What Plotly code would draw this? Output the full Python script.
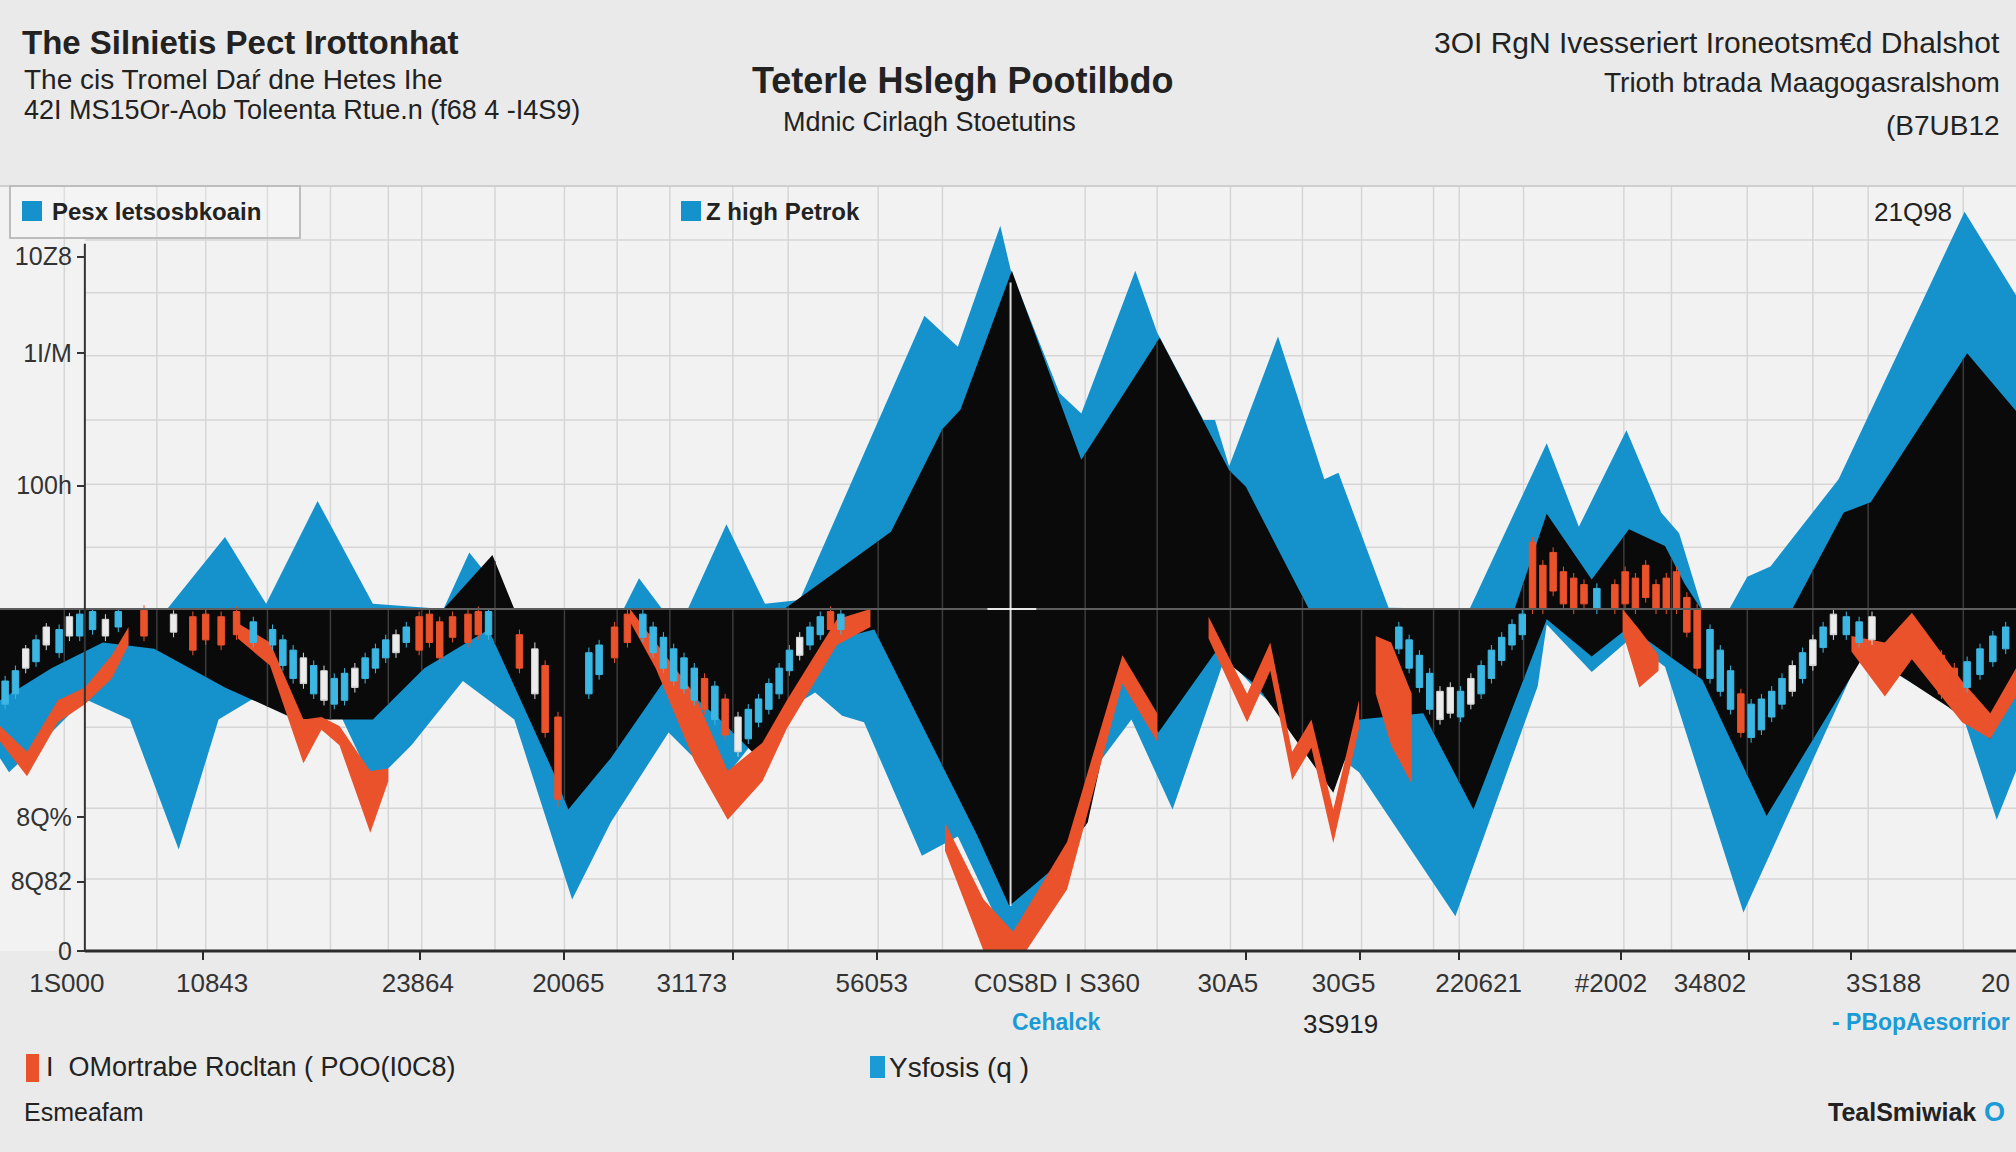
import numpy as np
import plotly.graph_objects as go

# ---------------- data (x in chart units, values on the chart's value scale) ----------------
BASE = 266  # zero line of the band chart

BLUE_UP_X = [0, 130, 175, 207, 247, 290, 345, 365, 400, 485, 497, 515, 535, 565, 595, 622, 719, 745, 778, 786,
             824, 841, 883, 900, 936, 945, 956, 994, 1030, 1041, 1080, 1143, 1203, 1228, 1265, 1292, 1306, 1324,
             1345, 1359, 1377, 1430, 1528, 1568]
BLUE_UP_V = [266, 266, 322, 270, 350, 270, 266, 310, 266, 266, 290, 266, 266, 332, 270, 273, 494, 470, 564, 530,
             434, 418, 529, 481, 413, 413, 377, 478, 367, 372, 267, 266, 395, 330, 405, 341, 325, 266,
             266, 291, 299, 367, 575, 510]

BLUE_LO_X = [0, 7, 40, 66, 101, 139, 170, 208, 250, 290, 320, 360, 400, 445, 475, 520, 560, 600, 634, 655, 672,
             717, 745, 786, 818, 850, 880, 912, 953, 980, 1010, 1057, 1132, 1196, 1203, 1238, 1267, 1295, 1356,
             1448, 1526, 1553, 1568]
BLUE_LO_V = [150, 139, 170, 196, 180, 79, 180, 203, 215, 130, 160, 210, 180, 40, 100, 170, 130, 180, 201, 183, 178,
             74, 89, 2, 63, 140, 180, 110, 229, 200, 175, 139, 27, 206, 254, 217, 242, 221, 30,
             232, 185, 102, 140]

BLACK_UP_X = [0, 345, 383, 400, 610, 693, 733, 747, 787, 841, 902, 956, 969, 1018, 1178, 1203, 1238, 1267, 1295,
              1310, 1323, 1394, 1434, 1455, 1530, 1568]
BLACK_UP_V = [266, 266, 308, 266, 266, 326, 406, 421, 529, 382, 477, 374, 361, 266, 266, 340, 289, 328, 315,
              286, 266, 266, 341, 349, 465, 420]

BLACK_LO_X = [0, 40, 80, 120, 175, 230, 290, 330, 380, 430, 442, 475, 520, 560, 590, 640, 680, 700, 760, 785, 818,
              846, 873, 901, 945, 978, 1037, 1057, 1107, 1146, 1203, 1238, 1267, 1292, 1324, 1374, 1451, 1515,
              1548, 1568]
BLACK_LO_V = [195, 220, 240, 235, 205, 180, 180, 220, 250, 140, 110, 150, 215, 180, 150, 240, 250, 210, 90, 35, 63,
              100, 224, 170, 232, 206, 123, 180, 185, 110, 258, 229, 252, 234, 211, 105, 232, 190,
              165, 211]

ORANGE_X = [[0, 21, 45, 66, 87, 100],
            [185, 210, 236, 250, 264, 288, 302],
            [490, 510, 540, 566, 593, 612, 651, 677],
            [735, 765, 788, 830, 873, 900],
            [940, 970, 988, 1005, 1020, 1037, 1057],
            [1070, 1082, 1098],
            [1262, 1275, 1290],
            [1440, 1466, 1487, 1526, 1548, 1568]]
ORANGE_HI = [[175, 155, 195, 205, 230, 252],
             [255, 240, 180, 182, 175, 140, 142],
             [266, 240, 200, 140, 162, 195, 258, 266],
             [100, 40, 15, 85, 230, 185],
             [260, 200, 240, 155, 180, 110, 195],
             [245, 240, 200],
             [266, 250, 230],
             [245, 240, 263, 210, 185, 220]]
ORANGE_LO = [[163, 136, 178, 192, 212, 238],
             [243, 222, 146, 172, 160, 92, 132],
             [256, 220, 148, 102, 132, 173, 238, 252],
             [78, 0, -15, 48, 208, 163],
             [243, 178, 218, 133, 158, 84, 173],
             [200, 160, 130],
             [248, 205, 218],
             [233, 198, 227, 178, 165, 198]]

# blue / white candles
CB_X = [4, 12, 20, 28, 36, 46, 54, 62, 72, 82, 92, 135, 197,
        212, 220, 228, 236, 244, 252, 260, 268, 276, 284, 292, 300, 308, 316,
        380, 416, 458, 466, 500, 508, 516, 524, 532, 540, 556, 574, 582, 590, 598, 606, 614, 622, 630, 638, 654,
        1088, 1096, 1104, 1112, 1120, 1128, 1136, 1144, 1152, 1160, 1168, 1176, 1184, 1242,
        1330, 1338, 1346, 1362, 1370, 1378, 1386, 1394, 1402, 1410, 1418, 1426, 1436, 1446, 1456,
        1530, 1540, 1550, 1560]
CB_OPEN = [192, 200, 235, 225, 252, 232, 260, 245, 250, 258, 252, 262, 240,
           238, 222, 212, 228, 200, 218, 192, 195, 220, 212, 220, 228, 246, 240,
           246, 235, 200, 215, 244, 232, 220, 210, 204, 195, 180, 182, 165, 178, 188, 200, 218, 244, 238, 246, 250,
           235, 220, 205, 188, 202, 205, 182, 212, 200, 212, 226, 238, 246, 266,
           212, 202, 188, 166, 172, 182, 192, 222, 212, 242, 236, 262, 246, 240, 260,
           205, 215, 225, 235]
CB_HIGH = [214, 222, 238, 246, 255, 254, 263, 266, 266, 262, 266, 265, 260,
           254, 246, 238, 232, 226, 222, 216, 220, 224, 232, 239, 246, 250, 256,
           266, 240, 236, 242, 266, 256, 248, 239, 232, 224, 210, 186, 192, 200, 212, 224, 238, 248, 256, 264, 266,
           256, 246, 234, 220, 206, 209, 206, 216, 226, 238, 248, 258, 266, 286,
           254, 238, 222, 196, 200, 206, 216, 226, 236, 246, 256, 266, 264, 260, 264,
           229, 239, 249, 256]
CB_LOW = [188, 196, 216, 221, 234, 228, 241, 241, 246, 241, 248, 244, 236,
          234, 218, 208, 204, 196, 191, 188, 191, 201, 208, 216, 224, 228, 236,
          242, 196, 196, 211, 240, 228, 216, 206, 200, 191, 176, 151, 161, 174, 184, 196, 214, 226, 234, 242, 246,
          231, 216, 201, 184, 176, 181, 178, 188, 196, 208, 222, 234, 242, 262,
          208, 198, 184, 162, 168, 178, 188, 198, 208, 218, 232, 242, 242, 236, 238,
          201, 211, 221, 231]
CB_CLOSE = [210, 218, 220, 242, 238, 250, 245, 262, 264, 245, 264, 248, 256,
            250, 242, 234, 208, 222, 195, 212, 216, 205, 228, 235, 242, 232, 252,
            264, 200, 232, 238, 262, 252, 244, 235, 228, 220, 206, 155, 188, 196, 208, 220, 234, 230, 252, 260, 262,
            252, 242, 230, 216, 180, 185, 202, 192, 222, 234, 244, 254, 262, 282,
            250, 234, 218, 192, 196, 202, 212, 202, 232, 222, 252, 246, 260, 256, 242,
            225, 235, 245, 252]

# orange candles
CO_X = [112, 150, 160, 172, 184, 326, 334, 342, 352, 364, 372, 404, 424, 434, 478, 488, 548, 564, 646,
        1192, 1200, 1208, 1216, 1224, 1232, 1256, 1264, 1272, 1280, 1288, 1296, 1304, 1312, 1320, 1354, 1510, 1520]
CO_OPEN = [245, 234, 242, 238, 246, 234, 240, 228, 244, 240, 246, 220, 170, 118, 228, 240, 188, 168, 250,
           266, 266, 280, 270, 266, 270, 266, 270, 266, 275, 266, 266, 266, 248, 220, 170, 200, 195]
CO_HIGH = [269, 264, 266, 264, 268, 264, 266, 260, 264, 266, 268, 250, 226, 186, 256, 266, 216, 200, 268,
           322, 304, 314, 299, 294, 289, 289, 299, 294, 304, 289, 294, 299, 279, 270, 204, 234, 224]
CO_LOW = [241, 230, 238, 234, 242, 230, 236, 224, 240, 236, 242, 216, 166, 112, 224, 236, 184, 164, 246,
          262, 262, 276, 266, 262, 266, 262, 266, 262, 271, 262, 262, 262, 244, 214, 166, 196, 191]
CO_CLOSE = [265, 260, 262, 260, 264, 260, 262, 256, 260, 262, 264, 246, 222, 182, 252, 262, 212, 196, 264,
            318, 300, 310, 295, 290, 285, 285, 295, 290, 300, 285, 290, 295, 275, 266, 200, 230, 220]

# axis labels
Y_TICK_VALS = [540, 465, 362, 104, 54, 0]
Y_TICK_TEXT = ["10Z8", "1I/M", "100h", "8Q%", "8Q82", "0"]
X_TICK_VALS = [52, 165, 325, 442, 538, 678, 822, 955, 1045, 1150, 1253, 1330, 1465, 1552]
X_TICK_TEXT = ["1S000", "10843", "23864", "20065", "31173", "56053", "C0S8D I S360", "30A5", "30G5",
               "220621", "#2002", "34802", "3S188", "20"]
X_MINOR_VALS = [158, 327, 439, 570, 682, 969, 1058, 1135, 1261, 1360, 1440]

# ---------------- styling ----------------
W, H = 2016, 1152
PLOT_TOP, PLOT_BOT = 186, 951
X_MAX, Y_MAX = 1568, 595
BLUE = "#1592cb"
BLACK = "#0a0a0a"
ORANGE = "#e9522b"
CANDLE_BLUE = "#3cb6e2"
CANDLE_WHITE = "#ececec"
TEXT = "#222222"
NARROW = "Liberation Sans Narrow, Arial Narrow, Liberation Sans, sans-serif"
SANS = "Liberation Sans, Arial, sans-serif"

GRID_X = [50, 122, 160, 208, 257, 302, 328, 385, 439, 480, 521, 570, 613, 683, 733, 844, 900, 957, 1013,
          1059, 1115, 1135, 1185, 1263, 1300, 1359, 1410, 1453, 1527]
GRID_Y = [553, 512, 463, 413, 363, 314, 174, 111, 56]


def px(x):
    return x / W


def py(y):
    return (PLOT_BOT - y) / (PLOT_BOT - PLOT_TOP)


def area(xs, vs, base):
    return [xs[0]] + list(xs) + [xs[-1]], [base] + list(vs) + [base]


fig = go.Figure()

bx, bv = area(BLUE_UP_X, BLUE_UP_V, BASE)
fig.add_trace(go.Scatter(x=bx, y=bv, fill="toself", fillcolor=BLUE, mode="lines",
                         line=dict(width=0, color=BLUE), hoverinfo="skip"))
bx, bv = area(BLUE_LO_X, BLUE_LO_V, BASE)
fig.add_trace(go.Scatter(x=bx, y=bv, fill="toself", fillcolor=BLUE, mode="lines",
                         line=dict(width=0, color=BLUE), hoverinfo="skip"))
kx, kv = area(BLACK_UP_X, BLACK_UP_V, BASE)
fig.add_trace(go.Scatter(x=kx, y=kv, fill="toself", fillcolor=BLACK, mode="lines",
                         line=dict(width=0, color=BLACK), hoverinfo="skip"))
kx, kv = area(BLACK_LO_X, BLACK_LO_V, BASE)
fig.add_trace(go.Scatter(x=kx, y=kv, fill="toself", fillcolor=BLACK, mode="lines",
                         line=dict(width=0, color=BLACK), hoverinfo="skip"))

# grid lines showing through the black band
sx, sy = [], []
for gx in GRID_X:
    lo = float(np.interp(gx, BLACK_LO_X, BLACK_LO_V))
    up = float(np.interp(gx, BLACK_UP_X, BLACK_UP_V))
    sx += [gx, gx, None]
    sy += [lo, up, None]
fig.add_trace(go.Scatter(x=sx, y=sy, mode="lines", line=dict(color="#3c3c3c", width=1.5), hoverinfo="skip"))

# orange ribbons
ox, oy = [], []
for xs, hi, lo in zip(ORANGE_X, ORANGE_HI, ORANGE_LO):
    ox += list(xs) + list(xs[::-1]) + [None]
    oy += list(hi) + list(lo[::-1]) + [None]
fig.add_trace(go.Scatter(x=ox, y=oy, fill="toself", fillcolor=ORANGE, mode="lines",
                         line=dict(width=0, color=ORANGE), hoverinfo="skip"))

# candlesticks live on an overlaying subplot so they draw above the filled bands
fig.add_trace(go.Candlestick(
    x=CB_X, open=CB_OPEN, high=CB_HIGH, low=CB_LOW, close=CB_CLOSE,
    xaxis="x2", yaxis="y2",
    increasing=dict(line=dict(color=CANDLE_BLUE, width=1), fillcolor=CANDLE_BLUE),
    decreasing=dict(line=dict(color="#d8d8d8", width=1), fillcolor=CANDLE_WHITE),
    whiskerwidth=0, hoverinfo="skip"))
fig.add_trace(go.Candlestick(
    x=CO_X, open=CO_OPEN, high=CO_HIGH, low=CO_LOW, close=CO_CLOSE,
    xaxis="x2", yaxis="y2",
    increasing=dict(line=dict(color=ORANGE, width=1), fillcolor=ORANGE),
    decreasing=dict(line=dict(color=ORANGE, width=1), fillcolor=ORANGE),
    whiskerwidth=0, hoverinfo="skip"))

shapes = []
for gx in GRID_X:
    shapes.append(dict(type="line", xref="x", yref="paper", x0=gx, x1=gx, y0=0, y1=1,
                       line=dict(color="#d6d6d6", width=1.5), layer="below"))
for gy in GRID_Y:
    shapes.append(dict(type="line", xref="x", yref="y", x0=66, x1=X_MAX, y0=gy, y1=gy,
                       line=dict(color="#d6d6d6", width=1.5), layer="below"))
# top border of plot
shapes.append(dict(type="line", xref="paper", yref="paper", x0=0, x1=1, y0=1, y1=1,
                   line=dict(color="#cfcfcf", width=2)))
# zero line of the band and crosshair
shapes.append(dict(type="line", xref="x", yref="y", x0=0, x1=X_MAX, y0=BASE, y1=BASE,
                   line=dict(color="#5e5e5e", width=2), layer="above"))
shapes.append(dict(type="line", xref="x", yref="y", x0=786, x1=786, y0=35, y1=520,
                   line=dict(color="rgba(255,255,255,0.85)", width=2), layer="above"))
shapes.append(dict(type="line", xref="x", yref="y", x0=768, x1=806, y0=BASE, y1=BASE,
                   line=dict(color="rgba(255,255,255,0.85)", width=2), layer="above"))
# axes lines
shapes.append(dict(type="line", xref="x", yref="paper", x0=66, x1=X_MAX, y0=0, y1=0,
                   line=dict(color="#2a2a2a", width=3), layer="above"))
shapes.append(dict(type="line", xref="x", yref="paper", x0=66, x1=66, y0=0, y1=550 / Y_MAX,
                   line=dict(color="#333333", width=2), layer="above"))
# legend box + swatches
shapes.append(dict(type="rect", xref="paper", yref="paper", x0=px(10), x1=px(300), y0=py(238), y1=py(186),
                   line=dict(color="#bdbdbd", width=2), fillcolor="rgba(255,255,255,0.2)"))
shapes.append(dict(type="rect", xref="paper", yref="paper", x0=px(22), x1=px(42), y0=py(221), y1=py(201),
                   line=dict(width=0), fillcolor=BLUE))
shapes.append(dict(type="rect", xref="paper", yref="paper", x0=px(681), x1=px(701), y0=py(221), y1=py(201),
                   line=dict(width=0), fillcolor=BLUE))
shapes.append(dict(type="rect", xref="paper", yref="paper", x0=px(26), x1=px(39), y0=py(1082), y1=py(1054),
                   line=dict(width=0), fillcolor=ORANGE))
shapes.append(dict(type="rect", xref="paper", yref="paper", x0=px(870), x1=px(885), y0=py(1078), y1=py(1056),
                   line=dict(width=0), fillcolor="#1a9bd6"))

ann = []


def label(text, x, y, size, xanchor="left", color=TEXT, family=NARROW):
    ann.append(dict(text=text, x=px(x), y=py(y), xref="paper", yref="paper", xanchor=xanchor,
                    yanchor="middle", showarrow=False, font=dict(size=size, color=color, family=family)))


label("<b>The Silnietis Pect Irottonhat</b>", 20, 42, 33, family=SANS)
label("The cis Tromel Daŕ dne Hetes Ihe", 22, 79, 28)
label("42I MS15Or-Aob Toleenta Rtue.n (f68 4 -I4S9)", 22, 110, 27)
label("<b>Teterle Hslegh Pootilbdo</b>", 962, 80, 36, xanchor="center", family=SANS)
label("Mdnic Cirlagh Stoetutins", 929, 122, 27, xanchor="center")
label("3OI RgN Ivesseriert Ironeotsm€d Dhalshot", 2002, 42, 30, xanchor="right")
label("Trioth btrada Maagogasralshom", 2002, 82, 28, xanchor="right")
label("(B7UB12", 2002, 125, 28, xanchor="right")
label("<b>Pesx letsosbkoain</b>", 50, 211, 24, family=SANS)
label("<b>Z high Petrok</b>", 704, 211, 24, family=SANS)
label("21Q98", 1913, 212, 26, xanchor="center")
label("<b>Cehalck</b>", 1056, 1022, 23, xanchor="center", color="#1a9bd6")
label("3S919", 1340, 1024, 26, xanchor="center")
label("<b>- PBopAesorrior</b>", 2012, 1022, 23, xanchor="right", color="#1a9bd6")
label("I  OMortrabe Rocltan ( POO(I0C8)", 44, 1067, 27)
label("Ysfosis (q )", 887, 1067, 28)
label("Esmeafam", 22, 1112, 25)
label("<b>TealSmiwiak</b>", 1978, 1112, 25, xanchor="right", family=SANS)
label("<b>O</b>", 1994, 1112, 27, xanchor="center", color="#1a9bd6", family=SANS)

fig.update_layout(
    width=W, height=H, autosize=False,
    margin=dict(l=0, r=0, t=PLOT_TOP, b=H - PLOT_BOT, pad=0),
    paper_bgcolor="#eaeaea", plot_bgcolor="#f2f2f2",
    showlegend=False,
    boxmode="overlay", boxgap=0.1,
    shapes=shapes, annotations=ann,
    xaxis=dict(range=[0, X_MAX], showgrid=False, zeroline=False, showline=False,
               tickmode="array", tickvals=X_TICK_VALS, ticktext=X_TICK_TEXT, ticks="",
               ticklabelstandoff=14, ticklabeloverflow="allow", automargin=False,
               tickfont=dict(size=26, color="#333333", family=NARROW),
               minor=dict(tickmode="array", tickvals=X_MINOR_VALS, ticks="outside", ticklen=8,
                          tickwidth=2, tickcolor="#2a2a2a", showgrid=False),
               rangeslider=dict(visible=False), fixedrange=True),
    yaxis=dict(range=[0, Y_MAX], showgrid=False, zeroline=False, showline=False,
               anchor="free", position=66 / X_MAX, automargin=False,
               tickmode="array", tickvals=Y_TICK_VALS, ticktext=Y_TICK_TEXT,
               ticks="outside", ticklen=8, tickwidth=2, tickcolor="#333333",
               tickfont=dict(size=25, color="#333333", family=NARROW), fixedrange=True),
    xaxis2=dict(range=[0, X_MAX], overlaying="x", anchor="y2", visible=False,
                rangeslider=dict(visible=False), fixedrange=True),
    yaxis2=dict(range=[0, Y_MAX], overlaying="y", anchor="x2", visible=False, fixedrange=True),
)

fig.write_html("out.html")
